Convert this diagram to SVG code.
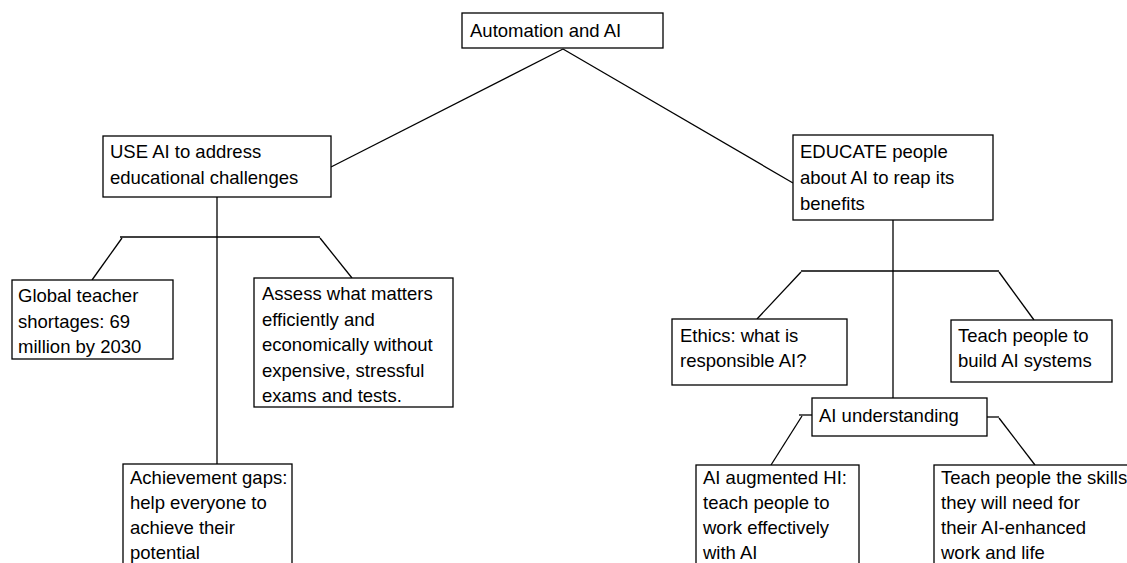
<svg xmlns="http://www.w3.org/2000/svg" width="1127" height="563" viewBox="0 0 1127 563">
<style>
  .box { fill: #ffffff; stroke: #000000; stroke-width: 1.3; }
  .t { font-family: "Liberation Sans", Arial, sans-serif; font-size: 18.5px; fill: #000000; }
  .c { fill: none; stroke: #000000; stroke-width: 1.3; }
</style>
<rect width="1127" height="563" fill="#ffffff"/>
<g id="connectors">
  <line class="c" x1="563" y1="49" x2="331" y2="167"/>
  <line class="c" x1="563" y1="49" x2="793" y2="183"/>
  <line class="c" x1="217" y1="197" x2="217" y2="464"/>
  <line class="c" x1="120" y1="237" x2="320" y2="237"/>
  <line class="c" x1="122" y1="238" x2="92" y2="280"/>
  <line class="c" x1="320" y1="238" x2="352" y2="278"/>
  <line class="c" x1="893" y1="220" x2="893" y2="398"/>
  <line class="c" x1="801" y1="271" x2="999" y2="271"/>
  <line class="c" x1="801" y1="272" x2="757" y2="319"/>
  <line class="c" x1="999" y1="272" x2="1034" y2="320"/>
  <line class="c" x1="799" y1="415" x2="812" y2="415"/>
  <line class="c" x1="802" y1="416" x2="771" y2="465"/>
  <line class="c" x1="987" y1="417" x2="999" y2="417"/>
  <line class="c" x1="999" y1="418" x2="1035" y2="465"/>
</g>
<g id="n-root">
  <rect class="box" x="462" y="13" width="201" height="35"/>
  <text class="t" x="470" y="37">Automation and AI</text>
</g>
<g id="n-use">
  <rect class="box" x="103" y="136" width="228" height="61"/>
  <text class="t" x="110" y="158">USE AI to address</text>
  <text class="t" x="110" y="184">educational challenges</text>
</g>
<g id="n-educate">
  <rect class="box" x="793" y="135" width="200" height="85"/>
  <text class="t" x="800" y="158">EDUCATE people</text>
  <text class="t" x="800" y="184">about AI to reap its</text>
  <text class="t" x="800" y="210">benefits</text>
</g>
<g id="n-global">
  <rect class="box" x="12" y="280" width="161" height="79"/>
  <text class="t" x="18" y="302">Global teacher</text>
  <text class="t" x="18" y="327.5">shortages: 69</text>
  <text class="t" x="18" y="353">million by 2030</text>
</g>
<g id="n-assess">
  <rect class="box" x="254" y="278" width="199" height="129"/>
  <text class="t" x="262" y="300">Assess what matters</text>
  <text class="t" x="262" y="325.5">efficiently and</text>
  <text class="t" x="262" y="351">economically without</text>
  <text class="t" x="262" y="376.5">expensive, stressful</text>
  <text class="t" x="262" y="402">exams and tests.</text>
</g>
<g id="n-achievement">
  <rect class="box" x="123" y="464" width="169" height="110"/>
  <text class="t" x="130" y="484">Achievement gaps:</text>
  <text class="t" x="130" y="509">help everyone to</text>
  <text class="t" x="130" y="534">achieve their</text>
  <text class="t" x="130" y="558.5">potential</text>
</g>
<g id="n-ethics">
  <rect class="box" x="672" y="319" width="175" height="66"/>
  <text class="t" x="680" y="342">Ethics: what is</text>
  <text class="t" x="680" y="367">responsible AI?</text>
</g>
<g id="n-teach-build">
  <rect class="box" x="951" y="320" width="161" height="62"/>
  <text class="t" x="958" y="342">Teach people to</text>
  <text class="t" x="958" y="367">build AI systems</text>
</g>
<g id="n-understanding">
  <rect class="box" x="812" y="398" width="175" height="38"/>
  <text class="t" x="819" y="422">AI understanding</text>
</g>
<g id="n-augmented">
  <rect class="box" x="696" y="465" width="163" height="110"/>
  <text class="t" x="703" y="484">AI augmented HI:</text>
  <text class="t" x="703" y="509">teach people to</text>
  <text class="t" x="703" y="534">work effectively</text>
  <text class="t" x="703" y="558.5">with AI</text>
</g>
<g id="n-skills">
  <rect class="box" x="934" y="465" width="220" height="110"/>
  <text class="t" x="941" y="484">Teach people the skills</text>
  <text class="t" x="941" y="509">they will need for</text>
  <text class="t" x="941" y="534">their AI-enhanced</text>
  <text class="t" x="941" y="558.5">work and life</text>
</g>
</svg>
